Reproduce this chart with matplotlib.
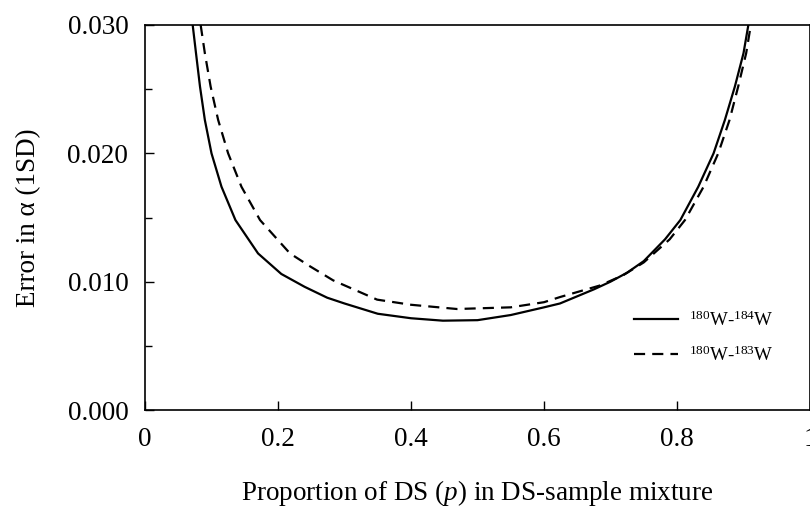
import numpy as np
import matplotlib
matplotlib.use('Agg')
import matplotlib.pyplot as plt
from matplotlib.ticker import MultipleLocator

plt.rcParams['font.family'] = ['Liberation Serif', 'DejaVu Serif']
plt.rcParams['mathtext.fontset'] = 'custom'
plt.rcParams['mathtext.rm'] = 'Liberation Serif'
plt.rcParams['mathtext.it'] = 'Liberation Serif:italic'

# 180W-184W (solid)
p_184 = np.array([0.0717, 0.0767, 0.0827, 0.090, 0.100, 0.115, 0.136, 0.170, 0.205, 0.240,
                  0.274, 0.300, 0.350, 0.400, 0.448, 0.500, 0.550, 0.600, 0.624, 0.675,
                  0.700, 0.725, 0.750, 0.782, 0.805, 0.832, 0.855, 0.872, 0.887, 0.900, 0.9073])
err_184 = np.array([0.0300, 0.0278, 0.0252, 0.0226, 0.0200, 0.0174, 0.0148, 0.0122, 0.0106, 0.0096,
                    0.00875, 0.0083, 0.0075, 0.00715, 0.00696, 0.0070, 0.0074, 0.0080, 0.0083, 0.0094,
                    0.0100, 0.0107, 0.0116, 0.0133, 0.0148, 0.0174, 0.0200, 0.0226, 0.0252, 0.0278, 0.0300])

# 180W-183W (dashed)
p_183 = np.array([0.0837, 0.090, 0.0987, 0.110, 0.125, 0.145, 0.173, 0.218, 0.248, 0.283,
                  0.349, 0.400, 0.469, 0.550, 0.600, 0.624, 0.684, 0.719, 0.750, 0.789,
                  0.812, 0.840, 0.862, 0.879, 0.892, 0.904, 0.911])
err_183 = np.array([0.0300, 0.0278, 0.0252, 0.0226, 0.0200, 0.0174, 0.0148, 0.0122, 0.0112, 0.0101,
                    0.0086, 0.0082, 0.00787, 0.0080, 0.0084, 0.0088, 0.0097, 0.0105, 0.0115, 0.0133,
                    0.0148, 0.0174, 0.0200, 0.0226, 0.0252, 0.0278, 0.0300])

x_ticks = [0, 0.2, 0.4, 0.6, 0.8, 1]
x_ticklabels = ['0', '0.2', '0.4', '0.6', '0.8', '1']
y_ticks = [0.000, 0.010, 0.020, 0.030]
y_ticklabels = ['0.000', '0.010', '0.020', '0.030']

fig = plt.figure(figsize=(8.1, 5.08), dpi=100)
ax = fig.add_axes([145/810, 1 - 410/508, 665/810, 385/508])

ax.plot(p_184, err_184, 'k-', lw=1.6, label=r'$^{180}$W-$^{184}$W')
ax.plot(p_183, err_183, 'k--', lw=1.6, dashes=(5, 3.2), label=r'$^{180}$W-$^{183}$W')

ax.set_xlim(0, 1)
ax.set_ylim(0, 0.030)
ax.set_xticks(x_ticks)
ax.set_xticklabels(x_ticklabels)
ax.set_yticks(y_ticks)
ax.set_yticklabels(y_ticklabels)
ax.yaxis.set_minor_locator(MultipleLocator(0.005))

ax.tick_params(axis='both', which='major', direction='in', length=6.5, width=1,
               labelsize=19.5, pad=12, top=False, right=False)
ax.tick_params(axis='y', which='minor', direction='in', length=5, width=1, right=False)
for s in ax.spines.values():
    s.set_linewidth(1.2)

ax.set_xlabel('Proportion of DS ($\\it{p}$) in DS-sample mixture', fontsize=19.5, labelpad=19)
ax.set_ylabel('Error in α (1SD)', fontsize=19.5, labelpad=19)

ax.legend(loc='center left', bbox_to_anchor=(0.735, 0.188), frameon=False, fontsize=13.6,
          handlelength=2.35, handletextpad=0.6, labelspacing=0.8, borderpad=0, borderaxespad=0)

fig.savefig('out.png', dpi=100)
